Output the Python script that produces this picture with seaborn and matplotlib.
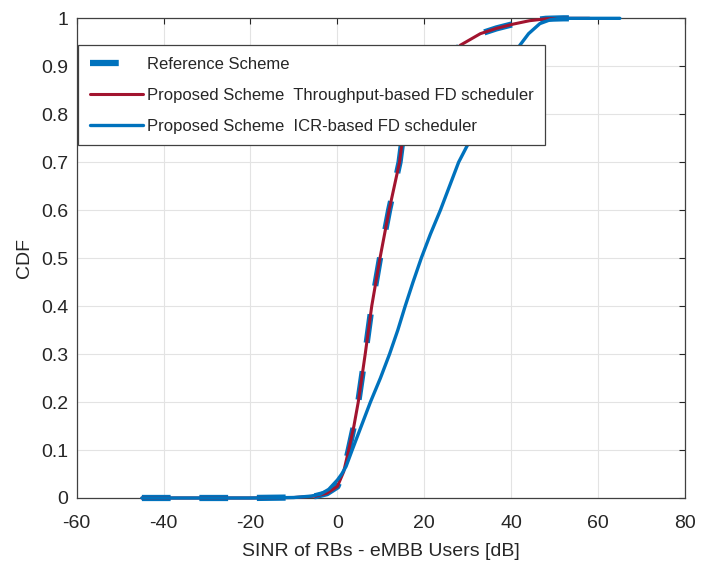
import numpy as np
import pandas as pd
import matplotlib
matplotlib.use("Agg")
import matplotlib.pyplot as plt
import seaborn as sns

# ---- data ----
thr_x = [-45, -30, -20, -10, -5, -2.4, 0, 1.45, 2.6, 3.8, 4.8, 5.6, 6.4, 7.9, 9.8,
         11.9, 14.3, 14.8, 17, 20, 24, 28.3, 32.9, 36.6, 40.5, 44.2, 48, 52, 58]
thr_y = [0, 0, 0, 0.001, 0.004, 0.01, 0.024, 0.055, 0.1, 0.15, 0.2, 0.25, 0.3, 0.4, 0.5,
         0.6, 0.7, 0.735, 0.79, 0.845, 0.9, 0.944, 0.968, 0.979, 0.988, 0.995, 0.999, 1.0, 1.0]

ref_x = [-45, -30, -20, -10, -5, -2.4, 0, 1.45, 2.6, 3.8, 4.8, 5.6, 6.4, 7.9, 9.8,
         11.9, 14.3, 14.8, 17, 20, 24, 28.3, 32.9, 36.6, 40.5, 44.2, 48, 52, 58.5]
ref_y = [0, 0, 0, 0.001, 0.004, 0.01, 0.024, 0.055, 0.1, 0.15, 0.2, 0.25, 0.3, 0.4, 0.5,
         0.6, 0.7, 0.735, 0.79, 0.845, 0.9, 0.944, 0.968, 0.979, 0.988, 0.995, 0.999, 1.0, 1.0]

icr_x = [-45, -30, -20, -10, -6, -3.9, -2, 0, 1, 2, 3.4, 5.5, 7.6, 9.9, 12.0, 13.9, 15.6,
         17.4, 19.3, 21.4, 23.7, 25.8, 27.9, 29.9, 33, 36, 39, 42, 44, 46.6, 49, 51.2, 58, 65]
icr_y = [0, 0, 0, 0.001, 0.004, 0.008, 0.018, 0.0375, 0.05, 0.066, 0.1, 0.15, 0.2, 0.25, 0.3,
         0.35, 0.4, 0.45, 0.5, 0.55, 0.6, 0.65, 0.7, 0.735, 0.79, 0.845, 0.898, 0.944, 0.968,
         0.989, 0.997, 1.0, 1.0, 1.0]

labels = ["Reference Scheme",
          "Proposed Scheme  Throughput-based FD scheduler",
          "Proposed Scheme  ICR-based FD scheduler"]
x_ticks = [-60, -40, -20, 0, 20, 40, 60, 80]
y_ticks = [0, 0.1, 0.2, 0.3, 0.4, 0.5, 0.6, 0.7, 0.8, 0.9, 1.0]
y_tick_labels = ["0", "0.1", "0.2", "0.3", "0.4", "0.5", "0.6", "0.7", "0.8", "0.9", "1"]

BLUE = "#0072BD"
RED = "#A2142F"
TXT = "#262626"

sns.set_style("white")
plt.rcParams["font.family"] = ["Liberation Sans", "DejaVu Sans"]

fig = plt.figure(figsize=(7.01, 5.62), dpi=100)
ax = fig.add_axes([0.1094, 0.1139, 0.9772 - 0.1094, 0.9674 - 0.1139])

sns.lineplot(x=ref_x, y=ref_y, ax=ax, color=BLUE, lw=4.5, sort=False, estimator=None,
             linestyle=(0, (4.6, 4.6)), label=labels[0], clip_on=False, zorder=3)
sns.lineplot(x=thr_x, y=thr_y, ax=ax, color=RED, lw=2.2, sort=False, estimator=None,
             label=labels[1], clip_on=False, zorder=4)
sns.lineplot(x=icr_x, y=icr_y, ax=ax, color=BLUE, lw=2.4, sort=False, estimator=None,
             label=labels[2], clip_on=False, zorder=5)

ax.set_xlim(-60, 80)
ax.set_ylim(0, 1)
ax.set_xticks(x_ticks)
ax.set_xticklabels([str(t) for t in x_ticks])
ax.set_yticks(y_ticks)
ax.set_yticklabels(y_tick_labels)
ax.grid(True, color="#e3e3e3", lw=0.8)
ax.set_axisbelow(True)
ax.tick_params(direction="in", length=4, width=0.8, top=True, right=True,
               labelsize=14, colors=TXT)
ax.tick_params(axis="x", pad=12)
ax.tick_params(axis="y", pad=6)
for s in ax.spines.values():
    s.set_visible(True)
    s.set_color("#404040")
    s.set_linewidth(0.9)

ax.set_xlabel("SINR of RBs - eMBB Users [dB]", fontsize=14, color=TXT, labelpad=8)
ax.set_ylabel("CDF", fontsize=14, color=TXT, labelpad=6)

leg = ax.legend(loc="upper left", bbox_to_anchor=(0.002, 0.944), borderaxespad=0,
                fontsize=12, frameon=True, fancybox=False, framealpha=1,
                edgecolor="#404040", handlelength=3.2, handletextpad=0.25,
                labelspacing=0.95, borderpad=0.7)
leg.get_frame().set_linewidth(0.9)
leg.set_zorder(10)
for t in leg.get_texts():
    t.set_color(TXT)

fig.savefig("out.png", dpi=100)
